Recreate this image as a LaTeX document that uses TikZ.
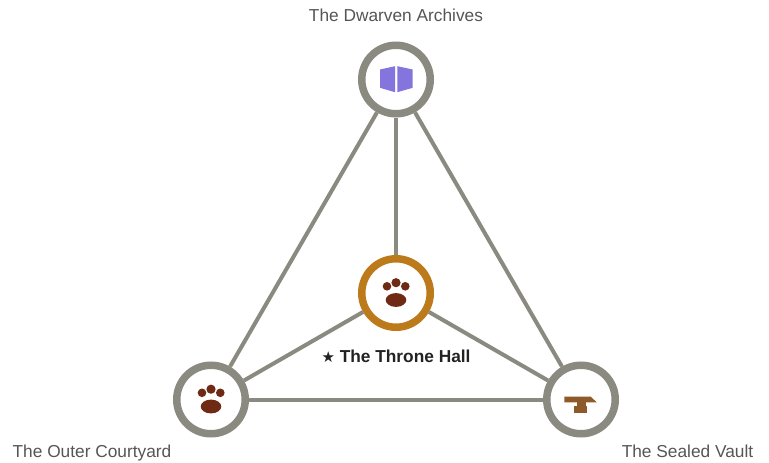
\documentclass[tikz,border=0pt]{standalone}
\usepackage{fontspec}
\setmainfont{Liberation Sans}
\newfontfamily\symfont{DejaVu Sans}
\definecolor{ringgrey}{HTML}{8A8A80}
\definecolor{ringgold}{HTML}{BD7A1A}
\definecolor{lbl}{HTML}{555555}
\definecolor{strongt}{HTML}{222222}
\definecolor{bookc}{HTML}{8474DE}
\definecolor{pawc}{HTML}{6E2A12}
\definecolor{anvilc}{HTML}{8F5A2A}
\tikzset{
  room/.style={circle,draw=ringgrey,line width=7.5pt,fill=white,minimum size=68.5pt,inner sep=0pt},
  hub/.style={room,draw=ringgold},
  link/.style={draw=ringgrey,line width=4pt},
  lab/.style={text=lbl,font=\fontsize{17.3pt}{20pt}\selectfont,inner sep=0pt,anchor=base},
  pics/paw/.style={code={
    \fill[pawc] (-9,-6.7) circle (4.3);
    \fill[pawc] (0,-10.3) circle (4.6);
    \fill[pawc] (9.3,-6.7) circle (4.3);
    \fill[pawc] (0,7) ellipse (10.3 and 6.9);
  }},
  pics/book/.style={code={
    \fill[bookc] (-16,-10) -- (-1,-13.3) -- (-1,12.7) -- (-16,8.3) -- cycle;
    \fill[bookc] (1.3,-13.3) -- (16.7,-10) -- (16.7,8.3) -- (1.3,12.7) -- cycle;
  }},
  pics/anvil/.style={code={
    \fill[anvilc] (-16.7,-2.8) -- (9.7,-2.8) -- (15.7,2.8) -- (-16.7,2.8) -- cycle;
    \fill[anvilc] (-4.3,2.8) rectangle (4.7,7);
    \fill[anvilc] (-7,6.5) rectangle (6.3,13.2);
  }}
}
\begin{document}
\begin{tikzpicture}[x=1pt,y=-1pt]
\useasboundingbox (0,0) rectangle (769,463);
\node[room] (archives) at (396,79.5) {};
\node[hub] (hall) at (396,293) {};
\node[room] (court) at (211,399.5) {};
\node[room] (vault) at (581,399.5) {};
\draw[link] (archives) -- (hall);
\draw[link] (archives) -- (court);
\draw[link] (archives) -- (vault);
\draw[link] (hall) -- (court);
\draw[link] (hall) -- (vault);
\draw[link] (court) -- (vault);
\pic at (archives) {book};
\pic at (hall) {paw};
\pic at (court) {paw};
\pic at (vault) {anvil};
\node[lab] (larch) at (396,21) {The Dwarven Archives};
\node[lab] (lcourt) at (92,457.5) {The Outer Courtyard};
\node[lab] (lvault) at (687.5,457.5) {The Sealed Vault};
\node[lab,text=strongt,font=\fontsize{17.3pt}{20pt}\selectfont\bfseries] (lhall) at (396,362) {{\symfont\fontsize{15pt}{20pt}\selectfont ★} The Throne Hall};
\end{tikzpicture}
\end{document}
